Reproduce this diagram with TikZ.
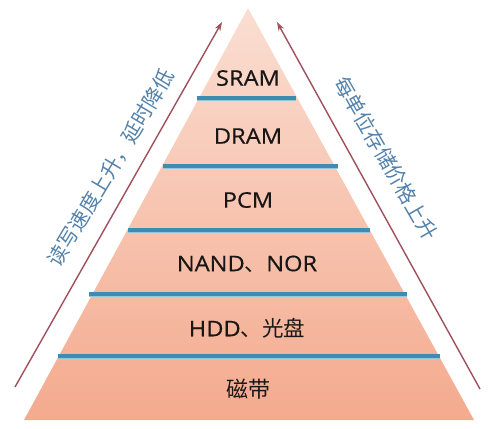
\documentclass[tikz,border=0pt]{standalone}
\usepackage{fontspec}
\setmainfont[FakeBold=0.5,FakeStretch=1.1]{Open Sans}
\newfontfamily\cjk{Noto Sans CJK SC}
\usetikzlibrary{arrows.meta}
\definecolor{sepblue}{RGB}{62,140,180}
\definecolor{sephalocol}{RGB}{150,200,220}
\definecolor{arrowred}{RGB}{160,80,92}
\definecolor{sidetext}{RGB}{84,130,170}
\definecolor{toppink}{RGB}{250,222,210}
\definecolor{botpink}{RGB}{244,170,142}
\definecolor{tiertext}{RGB}{25,22,22}
\begin{document}
\begin{tikzpicture}[x=1pt,y=-1pt,
  tier/.style={font=\fontsize{21.5}{24}\selectfont, text=tiertext, inner sep=0pt},
  sidelabel/.style={font=\cjk\fontsize{20.5}{22}\selectfont, text=sidetext, inner sep=0pt},
  sepline/.style={draw=sepblue, line width=3.4pt},
  sephalo/.style={draw=sephalocol, line width=5pt},
  trendarrow/.style={draw=arrowred, line width=1.4pt, -{Stealth[length=9pt,width=6pt]}}]
\useasboundingbox (0,0) rectangle (491,429);
\fill[white] (0,0) rectangle (491,429);
% pyramid
\coordinate (apex) at (248,8);
\coordinate (bl) at (24,420);
\coordinate (br) at (474,420);
\shade[top color=toppink, bottom color=botpink, draw=none] (apex) -- (br) -- (bl) -- cycle;
% separators
\coordinate (s1a) at (197,98);  \coordinate (s1b) at (296,98);
\coordinate (s2a) at (163,166); \coordinate (s2b) at (338,166);
\coordinate (s3a) at (128,230); \coordinate (s3b) at (370,230);
\coordinate (s4a) at (89,294);  \coordinate (s4b) at (407,294);
\coordinate (s5a) at (58,356);  \coordinate (s5b) at (440,356);
\foreach \s in {1,...,5}{
  \draw[sephalo] (s\s a) -- (s\s b);
  \draw[sepline] (s\s a) -- (s\s b);
}
% tier labels
\node[tier] (sram) at (248,78) {SRAM};
\node[tier] (dram) at (248,136) {DRAM};
\node[tier] (pcm) at (248,200) {PCM};
\node[tier] (nand) at (247,264) {NAND{\cjk 、}NOR};
\node[tier] (hdd) at (247,328) {HDD{\cjk 、光盘}};
\node[tier, font=\cjk\fontsize{22}{24}\selectfont] (tape) at (248,389) {磁带};
% trend arrows
\coordinate (la0) at (15,387);
\coordinate (la1) at (222,22);
\coordinate (ra0) at (480,389);
\coordinate (ra1) at (277,22);
\draw[trendarrow] (la0) -- (la1);
\draw[trendarrow] (ra0) -- (ra1);
% side labels
\node[sidelabel, rotate=59] (speed) at (111,168) {读写速度上升，延时降低};
\node[sidelabel, rotate=-60] (cost) at (386,158) {每单位存储价格上升};
\end{tikzpicture}
\end{document}
